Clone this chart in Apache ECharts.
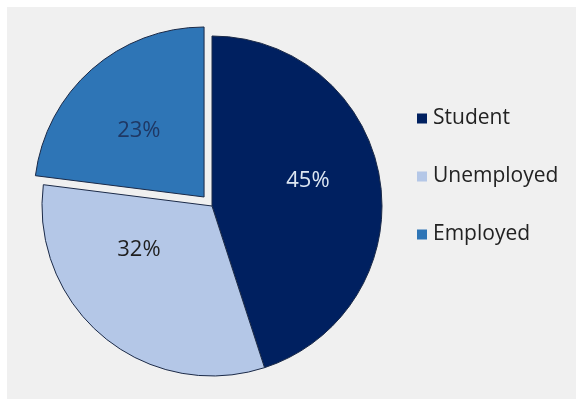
<!DOCTYPE html>
<html>
<head>
<meta charset="utf-8">
<script src="https://cdn.jsdelivr.net/npm/echarts@6/dist/echarts.min.js"></script>
<style>
  html, body { margin: 0; padding: 0; background: #ffffff; }
  #chart { position: absolute; left: 7px; top: 7px; width: 569px; height: 392px; background: #f0f0f0; }
</style>
</head>
<body>
<div id="chart"></div>
<script>
// Status breakdown (percent of respondents)
const categories = ['Student', 'Unemployed', 'Employed'];
const shares = [45, 32, 23];
const sliceColors = ['#002060', '#b4c7e7', '#2e75b6'];
const labelColors = ['#dce6f2', '#1f1f1f', '#1f3864'];
const exploded = [false, false, true];

const chart = echarts.init(document.getElementById('chart'), null, { renderer: 'canvas' });

// small label nudges so the percentages sit in the visual middle of each slice
const labelNudge = [[9, -11], [-17, -24], [-7, 0]];

const data = categories.map((name, i) => {
  const item = {
    name: name,
    value: shares[i],
    selected: exploded[i],
    itemStyle: { color: sliceColors[i] },
    label: { color: labelColors[i], offset: labelNudge[i] }
  };
  if (exploded[i]) {
    // the pulled-out slice draws its label from the select state
    item.label = { color: labelColors[i] };
    item.select = {
      itemStyle: { color: sliceColors[i], borderColor: '#1b2a48', borderWidth: 1 },
      label: { color: labelColors[i], offset: labelNudge[i] }
    };
  }
  return item;
});

chart.setOption({
  backgroundColor: '#f0f0f0',
  animation: false,
  legend: {
    orient: 'vertical',
    left: 405,
    top: 96,
    itemWidth: 10,
    itemHeight: 10,
    itemGap: 37,
    icon: 'rect',
    selectedMode: false,
    itemStyle: { borderWidth: 0 },
    textStyle: { fontFamily: 'Open Sans', fontSize: 21, color: '#222222', padding: [0, 0, 0, 1] },
    data: categories
  },
  series: [{
    type: 'pie',
    center: [205, 199],
    radius: 170,
    startAngle: 90,
    clockwise: true,
    selectedMode: 'multiple',
    selectedOffset: 12,
    label: {
      show: true,
      position: 'inside',
      formatter: '{d}%',
      fontFamily: 'Open Sans',
      fontSize: 22
    },
    labelLine: { show: false },
    itemStyle: { borderColor: '#1b2a48', borderWidth: 1 },
    emphasis: { disabled: true },
    data: data
  }]
});
</script>
</body>
</html>
